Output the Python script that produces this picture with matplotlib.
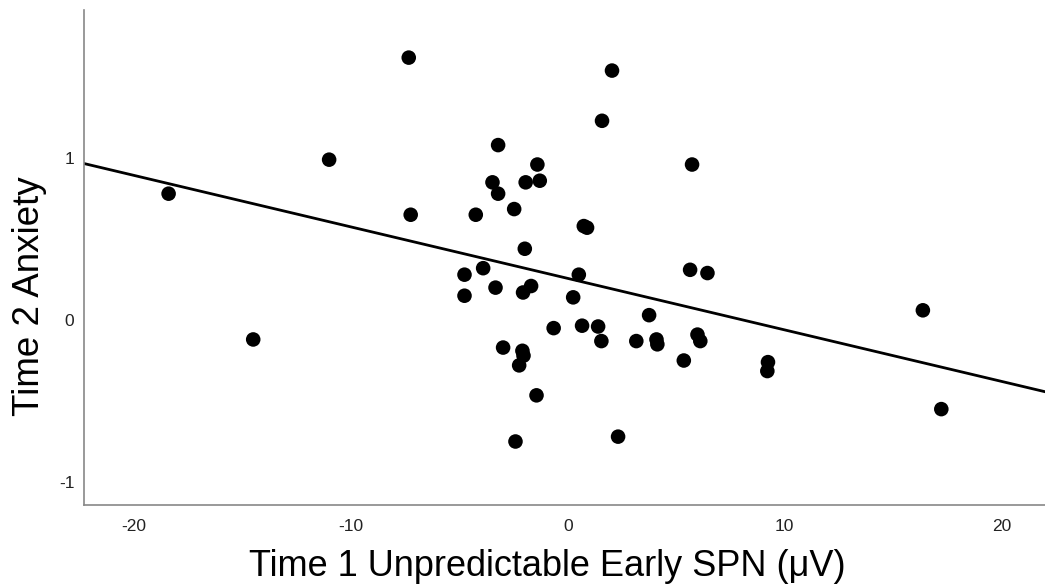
import numpy as np
import matplotlib
matplotlib.use("Agg")
import matplotlib.pyplot as plt

plt.rcParams['font.family'] = ['Liberation Sans', 'DejaVu Sans']
plt.rcParams['axes.unicode_minus'] = False

# Time 1 Unpredictable Early SPN (uV) vs Time 2 Anxiety
spn = [-18.4, -11.0, -14.5, -7.33, 2.04, 1.58, -3.21, 5.73, -1.40, -3.47,
       -1.94, -1.29, -3.21, -2.47, -7.24, -4.24, 0.74, 0.89, -1.98, -3.90,
       -4.76, 0.51, 5.64, 6.44, -3.33, -1.69, -2.06, -4.76, 0.25, 3.75,
       -0.65, 0.66, 1.40, 1.55, 3.16, 4.09, 4.13, 5.98, 6.11, 5.35,
       -2.98, -2.09, -2.04, -2.24, -1.44, -2.41, 2.32, 9.23, 9.20, 16.37,
       17.22]
anxiety = [0.78, 0.99, -0.12, 1.62, 1.54, 1.23, 1.08, 0.96, 0.96, 0.85,
           0.85, 0.86, 0.78, 0.685, 0.65, 0.65, 0.58, 0.57, 0.44, 0.32,
           0.28, 0.28, 0.31, 0.29, 0.20, 0.21, 0.17, 0.15, 0.14, 0.03,
           -0.05, -0.035, -0.04, -0.13, -0.13, -0.12, -0.15, -0.09, -0.13, -0.25,
           -0.17, -0.19, -0.22, -0.28, -0.465, -0.75, -0.72, -0.26, -0.315, 0.06,
           -0.55]

# linear fit shown in the figure
fit_slope = -0.0318
fit_intercept = 0.257

x_ticks = [-20, -10, 0, 10, 20]
y_ticks = [-1, 0, 1]

fig = plt.figure(figsize=(10.45, 5.86), dpi=100)
ax = fig.add_axes([84 / 1045, 1 - 505 / 586, 1 - 84 / 1045, 495 / 586])

xlim = (-22.3, 22.0)
ax.set_xlim(xlim)
ax.set_ylim(-1.142, 1.914)

ax.scatter(spn, anxiety, s=110, color='black', edgecolors='none', zorder=3)
xs = np.array(xlim)
ax.plot(xs, fit_intercept + fit_slope * xs, color='black', lw=2.0, zorder=2)

ax.set_xticks(x_ticks)
ax.set_yticks(y_ticks)
ax.tick_params(length=0, labelsize=12.5, colors='#222222')
ax.tick_params(axis='x', pad=10)
ax.tick_params(axis='y', pad=7)

for side in ['top', 'right']:
    ax.spines[side].set_visible(False)
for side in ['left', 'bottom']:
    ax.spines[side].set_color('#888888')
    ax.spines[side].set_linewidth(1.2)

ax.set_xlabel('Time 1 Unpredictable Early SPN (\u03bcV)', fontsize=26)
ax.set_ylabel('Time 2 Anxiety', fontsize=26.5)
ax.xaxis.set_label_coords(0.482, -0.088)
ax.yaxis.set_label_coords(-0.038, 0.422)

fig.savefig('out.png', dpi=100)
